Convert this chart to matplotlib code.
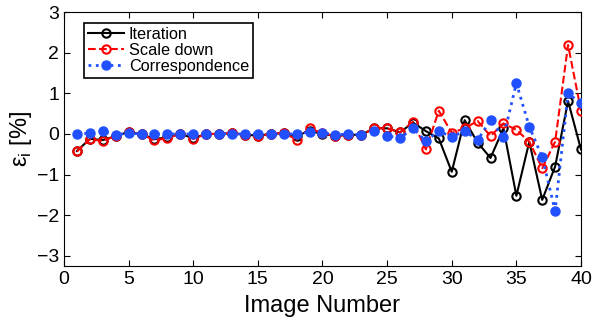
import numpy as np
import matplotlib.pyplot as plt

plt.rcParams['font.family'] = ['Liberation Sans', 'DejaVu Sans']
plt.rcParams['mathtext.fontset'] = 'custom'
plt.rcParams['mathtext.rm'] = 'Liberation Sans'

image_no = np.arange(1, 41)

iteration = [-0.42, -0.12, -0.15, -0.05, 0.05, 0.0, -0.13, -0.08, 0.0, -0.1,
             0.0, 0.0, 0.02, -0.02, -0.04, 0.0, 0.02, -0.05, 0.08, 0.0,
             -0.05, -0.02, -0.02, 0.14, 0.14, 0.04, 0.28, 0.07, -0.11, -0.93,
             0.34, -0.21, -0.59, 0.14, -1.52, -0.19, -1.62, -0.80, 0.81, -0.38]

scale_down = [-0.43, -0.13, -0.17, -0.05, 0.06, 0.0, -0.16, -0.1, 0.0, -0.12,
              0.0, 0.0, 0.02, -0.02, -0.05, 0.0, 0.03, -0.14, 0.14, 0.02,
              -0.05, -0.03, -0.03, 0.14, 0.14, 0.04, 0.30, -0.38, 0.57, 0.03,
              0.14, 0.32, -0.05, 0.26, 0.10, -0.19, -0.84, -0.19, 2.19, 0.57]

correspondence = [0.0, 0.02, 0.07, -0.02, 0.02, 0.0, 0.0, 0.0, 0.0, 0.0,
                  0.0, 0.0, 0.0, 0.0, 0.0, 0.0, 0.0, 0.0, 0.05, 0.03,
                  -0.02, 0.0, -0.02, 0.08, -0.05, -0.1, 0.14, -0.18, 0.08, -0.08,
                  0.08, -0.15, 0.34, -0.08, 1.25, 0.18, -0.57, -1.89, 1.0, 0.75]

blue = '#2050ff'

fig = plt.figure(figsize=(6.01, 3.21), dpi=100)
ax = fig.add_axes([0.1065, 0.171, 0.8602, 0.7916])

ax.plot(image_no, iteration, '-o', color='black', lw=1.5, ms=6,
        mfc='none', mew=1.5, label='Iteration', zorder=2)
ax.plot(image_no, scale_down, '--o', color='red', lw=1.5, ms=6,
        mfc='none', mew=1.5, label='Scale down', zorder=3)
ax.plot(image_no, correspondence, ':o', color=blue, lw=2, ms=6.5,
        mfc=blue, mec=blue, label='Correspondence', zorder=4)

ax.set_xlim(0, 40)
ax.set_ylim(-3.25, 3)
ax.set_xticks(np.arange(0, 41, 5))
ax.set_yticks(np.arange(-3, 4, 1))
ax.tick_params(direction='in', top=True, right=True, labelsize=14, length=4)
ax.set_yticklabels(['\u22123', '\u22122', '\u22121', '0', '1', '2', '3'])
for s in ax.spines.values():
    s.set_linewidth(0.8)

ax.set_xlabel('Image Number', fontsize=17, labelpad=5)
ax.set_ylabel(r'ε$_\mathregular{i}$ [%]', fontsize=17, labelpad=2)

leg = ax.legend(loc='upper left', bbox_to_anchor=(0.039, 0.957), borderaxespad=0,
                fontsize=11.7, fancybox=False, edgecolor='black', framealpha=1,
                labelspacing=0.05, borderpad=0.25, handletextpad=0.3, handlelength=2.2)
leg.get_frame().set_linewidth(1.2)

fig.savefig('out.png', dpi=100)
